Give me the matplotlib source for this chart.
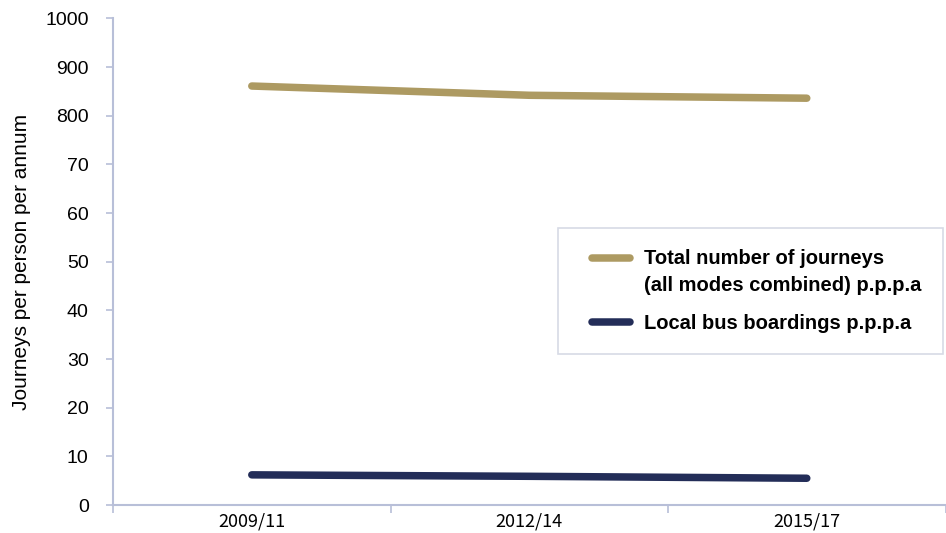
import numpy as np
import matplotlib
matplotlib.use("Agg")
import matplotlib.pyplot as plt
from matplotlib.legend_handler import HandlerLine2D

# Data
periods = ["2009/11", "2012/14", "2015/17"]
total_journeys = [861, 842, 836]
bus_boardings = [6.2, 5.9, 5.5]
total_label = "Total number of journeys\n(all modes combined) p.p.p.a"
bus_label = "Local bus boardings p.p.p.a"
ytick_values = [0, 10, 20, 30, 40, 50, 60, 70, 800, 900, 1000]

GOLD = "#ad9a62"
NAVY = "#232d58"
AXIS = "#b8bfd8"

# Broken y scale: 0-75 shown linearly, 800-1000 compressed into the top band
def fwd(v):
    v = np.asarray(v, dtype=float)
    return np.where(v <= 75, v, 80 + (v - 800) / 10.0)

def inv(p):
    p = np.asarray(p, dtype=float)
    return np.where(p <= 75, p, 800 + (p - 80) * 10.0)


class TopLineHandler(HandlerLine2D):
    """Legend line aligned with the first row of a two-line label."""
    def __init__(self, shift, **kw):
        super().__init__(**kw)
        self.shift = shift

    def create_artists(self, legend, orig_handle, xdescent, ydescent,
                       width, height, fontsize, trans):
        arts = super().create_artists(legend, orig_handle, xdescent, ydescent,
                                      width, height, fontsize, trans)
        for a in arts:
            y = np.asarray(a.get_ydata(), dtype=float)
            a.set_ydata(y + self.shift)
        return arts


plt.rcParams["font.family"] = ["Liberation Sans", "DejaVu Sans"]
NARROW_FONT = ["Noto Sans CJK JP", "DejaVu Sans"]

fig = plt.figure(figsize=(9.46, 5.33), dpi=100)
ax = fig.add_axes([0.1195, 0.0525, 0.88, 0.913])

x = np.arange(len(periods))
ax.set_yscale("function", functions=(fwd, inv))
l_total, = ax.plot(x, total_journeys, color=GOLD, lw=5.4, solid_capstyle="round", label=total_label)
l_bus, = ax.plot(x, bus_boardings, color=NAVY, lw=5.4, solid_capstyle="round", label=bus_label)

ax.set_ylim(0, 1000)
ax.set_yticks(ytick_values)
ax.set_yticklabels([str(v) for v in ytick_values])
ax.yaxis.set_minor_locator(matplotlib.ticker.NullLocator())
ax.set_xlim(-0.5, 2.5)
ax.set_xticks(x)
ax.set_xticklabels(periods, family=NARROW_FONT)
ax.set_xticks([-0.5, 0.5, 1.5, 2.5], minor=True)
ax.tick_params(axis="x", which="major", length=0, labelsize=13, pad=5.5)
ax.tick_params(axis="x", which="minor", length=6, color=AXIS, width=1.2)
ax.tick_params(axis="y", length=5, color=AXIS, width=1.2, labelsize=14, pad=12.5)

for s in ["top", "right"]:
    ax.spines[s].set_visible(False)
for s in ["left", "bottom"]:
    ax.spines[s].set_color(AXIS)
    ax.spines[s].set_linewidth(1.5)

ax.set_ylabel("Journeys per person per annum", fontsize=15, labelpad=10)

leg = ax.legend(handles=[l_total, l_bus], loc="upper left", bbox_to_anchor=(0.535, 0.569),
                frameon=True, fancybox=False,
                prop={"size": 14.5, "weight": "bold"},
                handlelength=2.5, handletextpad=0.7, borderpad=1.05,
                labelspacing=0.95, edgecolor="#cdd1df", borderaxespad=0,
                handler_map={l_total: TopLineHandler(shift=10.4, xpad=0.6),
                             l_bus: HandlerLine2D(xpad=0.6)})
leg.get_frame().set_linewidth(1.2)
for t in leg.get_texts():
    t.set_linespacing(1.5)

fig.savefig("out.png", dpi=100)
